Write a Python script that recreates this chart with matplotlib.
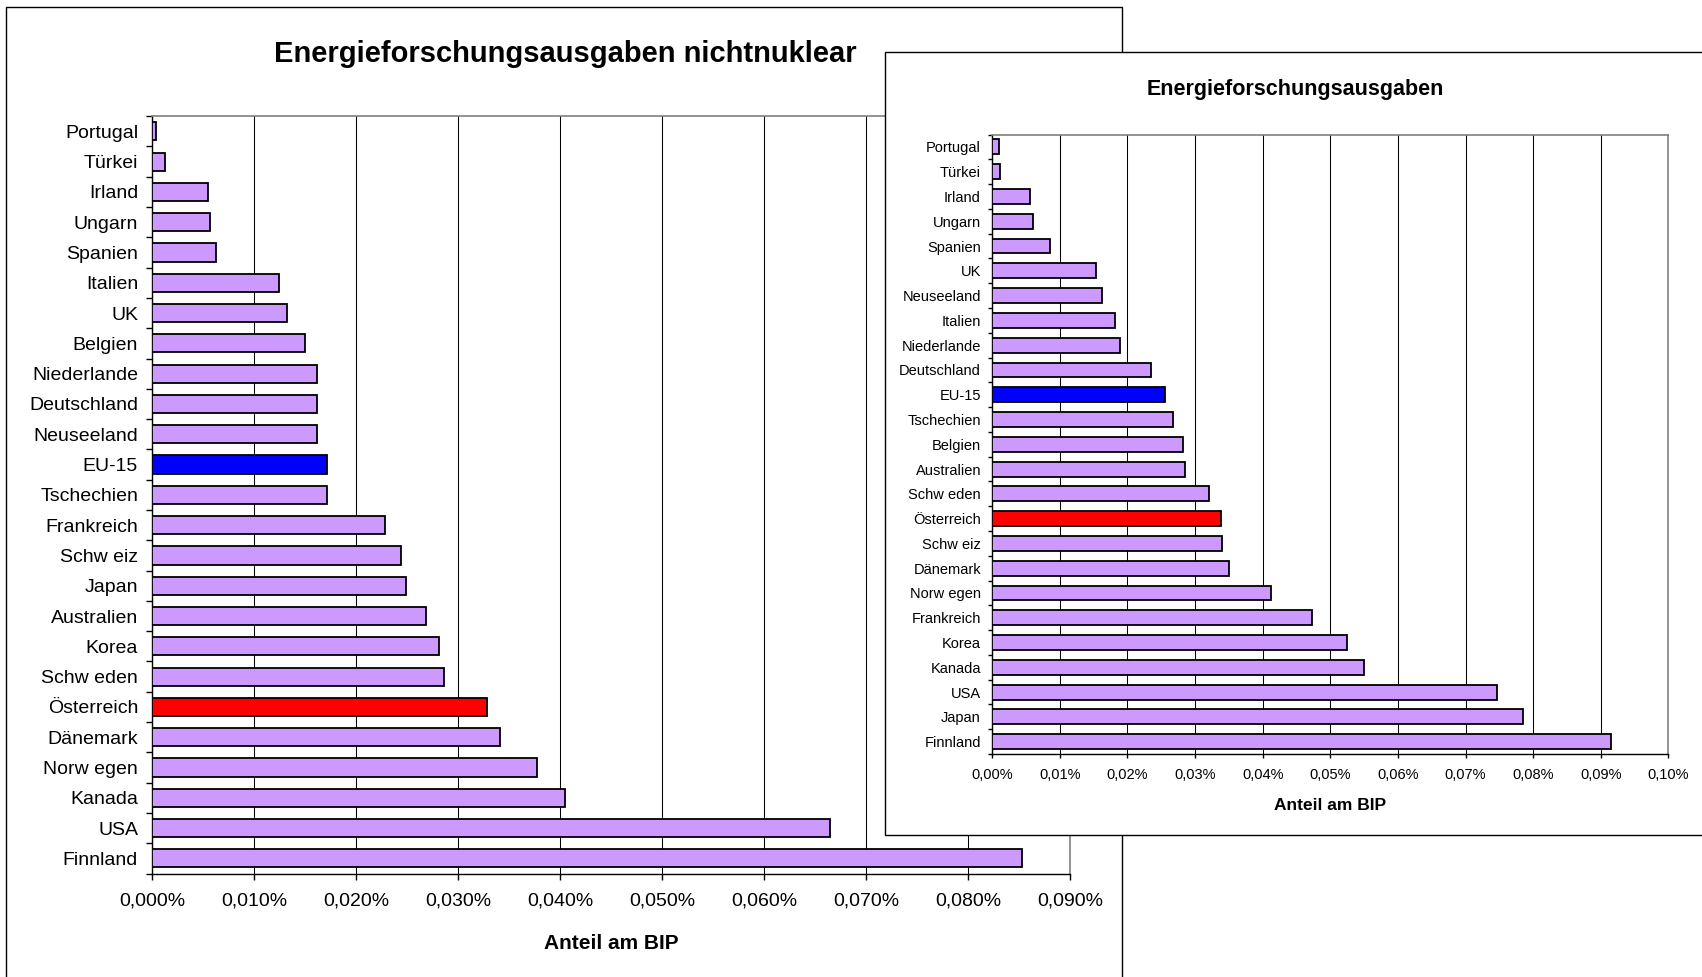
import numpy as np
import matplotlib
matplotlib.use("Agg")
import matplotlib.pyplot as plt
from matplotlib.patches import Rectangle
from matplotlib.ticker import FuncFormatter, MultipleLocator

plt.rcParams['font.family'] = ['Liberation Sans', 'DejaVu Sans']

# linkes Diagramm: nichtnuklear, Anteil am BIP in %
laender_nn = ["Portugal", "Türkei", "Irland", "Ungarn", "Spanien", "Italien", "UK",
              "Belgien", "Niederlande", "Deutschland", "Neuseeland", "EU-15",
              "Tschechien", "Frankreich", "Schw eiz", "Japan", "Australien", "Korea",
              "Schw eden", "Österreich", "Dänemark", "Norw egen", "Kanada", "USA",
              "Finnland"]
werte_nn = [0.0004, 0.0013, 0.0055, 0.0057, 0.0063, 0.0124, 0.0132, 0.0150, 0.0162,
            0.0162, 0.0162, 0.0172, 0.0172, 0.0228, 0.0244, 0.0249, 0.0269, 0.0281,
            0.0286, 0.0328, 0.0341, 0.0377, 0.0405, 0.0665, 0.0853]

# rechtes Diagramm: gesamt
laender_ges = ["Portugal", "Türkei", "Irland", "Ungarn", "Spanien", "UK", "Neuseeland",
               "Italien", "Niederlande", "Deutschland", "EU-15", "Tschechien", "Belgien",
               "Australien", "Schw eden", "Österreich", "Schw eiz", "Dänemark",
               "Norw egen", "Frankreich", "Korea", "Kanada", "USA", "Japan", "Finnland"]
werte_ges = [0.0010, 0.0012, 0.0056, 0.0061, 0.0085, 0.0153, 0.0163, 0.0181, 0.0189,
             0.0235, 0.0255, 0.0267, 0.0282, 0.0285, 0.0320, 0.0338, 0.0340, 0.0350,
             0.0412, 0.0473, 0.0525, 0.0550, 0.0746, 0.0785, 0.0915]

hervorheben = {"EU-15": "#0000ff", "Österreich": "#ff0000"}
lila = "#cc99ff"


def balken(ax, laender, werte, xmax, dez, fs, tlen, tpad, ypad):
    y = np.arange(len(laender))
    farben = [hervorheben.get(l, lila) for l in laender]
    ax.barh(y, werte, height=0.6, color=farben, edgecolor="black", linewidth=1.3, zorder=3)
    ax.set_ylim(len(laender) - 0.5, -0.5)
    ax.set_xlim(0, xmax)
    ax.xaxis.set_major_locator(MultipleLocator(0.01))
    ax.xaxis.set_major_formatter(
        FuncFormatter(lambda v, p: f"{v:.{dez}f}%".replace(".", ",")))
    ax.grid(axis="x", color="black", linewidth=0.75, zorder=1)
    ax.set_axisbelow(True)
    ax.set_yticks(y)
    ax.set_yticklabels(laender)
    ax.set_yticks(np.arange(len(laender) + 1) - 0.5, minor=True)
    ax.tick_params(axis="y", which="major", length=0, pad=ypad, labelsize=fs)
    ax.tick_params(axis="y", which="minor", length=tlen, width=1)
    ax.tick_params(axis="x", length=tlen, width=1, pad=tpad, labelsize=fs)
    for s in ("top", "right"):
        ax.spines[s].set_color("#808080")
        ax.spines[s].set_linewidth(1.2)
    for s in ("left", "bottom"):
        ax.spines[s].set_linewidth(1.0)


fig = plt.figure(figsize=(17.02, 9.77), dpi=100)

# Rahmen links
fig.patches.append(Rectangle((0.0038, -0.05), 0.6557, 1.0433, transform=fig.transFigure,
                             facecolor="white", edgecolor="black", linewidth=1.0, zorder=0))
ax1 = fig.add_axes([0.0893, 0.1059, 0.5395, 0.7752])
ax1.set_zorder(1)
balken(ax1, laender_nn, werte_nn, 0.09, 3, 14, 4, 10, 10)
fig.text(0.3323, 0.9445, "Energieforschungsausgaben nichtnuklear", ha="center", va="center",
         fontsize=21, fontweight="bold", zorder=1)
fig.text(0.359, 0.0345, "Anteil am BIP", ha="center", va="center",
         fontsize=15, fontweight="bold", zorder=1)

# Rahmen rechts, liegt ueber dem linken Diagramm
fig.patches.append(Rectangle((0.5198, 0.1455), 0.55, 0.8012, transform=fig.transFigure,
                             facecolor="white", edgecolor="black", linewidth=1.0, zorder=2))
ax2 = fig.add_axes([0.5829, 0.2282, 0.3974, 0.6341])
ax2.set_zorder(3)
balken(ax2, laender_ges, werte_ges, 0.10, 2, 10.5, 3, 7, 8)
fig.text(0.7609, 0.908, "Energieforschungsausgaben", ha="center", va="center",
         fontsize=15.5, fontweight="bold", zorder=4)
fig.text(0.7815, 0.176, "Anteil am BIP", ha="center", va="center",
         fontsize=12.5, fontweight="bold", zorder=4)

fig.savefig("out.png", dpi=100)
